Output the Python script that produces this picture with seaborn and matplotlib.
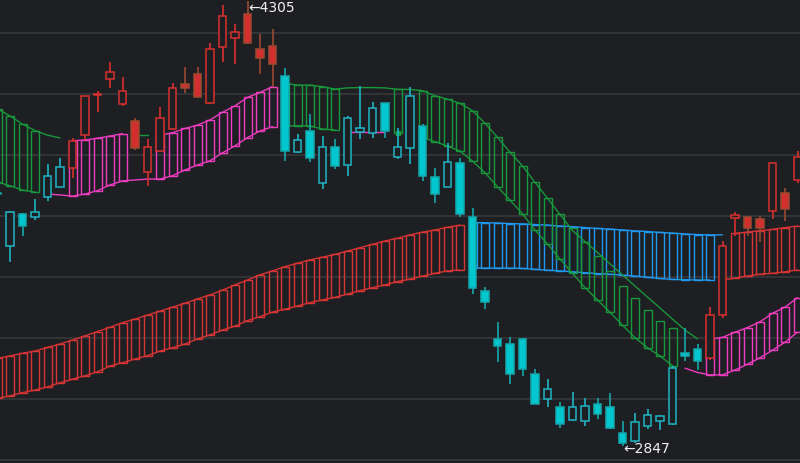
import numpy as np
import pandas as pd
import matplotlib
matplotlib.use("Agg")
import matplotlib.pyplot as plt
import seaborn as sns

nan = np.nan

# ---------------- data ----------------
# candle index k = -1 .. 63
K = list(range(-1, 64))
OPEN = [3677, 3504, 3606, 3599, 3664, 3697, 3759, 3866, 3997, 4049, 3967, 3913, 3746, 3815, 3885, 4033,
        4066, 3970, 4156, 4186, 4262, 4148, 4159, 4061, 3812, 3881, 3709, 3826, 3767, 3877, 3874, 3970,
        3795, 3825, 3897, 3728, 3697, 3774, 3597, 3356, 3197, 3180, 3197, 3082, 3001, 2974, 2932, 2929,
        2984, 2974, 2888, 2863, 2912, 2929, 2919, 3152, 3164, 3136, 3276, 3595, 3597, 3590, 3617, 3675, 3719]
HIGH = [3680, 3618, 3610, 3656, 3771, 3790, 3858, 3996, 4012, 4106, 4056, 3921, 3852, 3959, 4038, 4091,
        4091, 4169, 4293, 4231, 4305, 4198, 4214, 4085, 3869, 3934, 3864, 3853, 3930, 4028, 3974, 3971,
        3888, 4023, 3903, 3757, 3839, 3790, 3626, 3367, 3252, 3203, 3202, 3098, 3065, 2990, 3023, 3003,
        3003, 3020, 2930, 2954, 2967, 2948, 3110, 3235, 3180, 3302, 3520, 3613, 3598, 3602, 3777, 3692, 3815]
LOW = [3670, 3451, 3536, 3588, 3651, 3695, 3727, 3850, 3943, 4020, 3963, 3817, 3700, 3814, 3883, 4003,
       3991, 3968, 4107, 4098, 4165, 4066, 4025, 3782, 3807, 3779, 3689, 3754, 3733, 3852, 3856, 3856,
       3789, 3771, 3717, 3643, 3696, 3599, 3344, 3295, 3123, 3049, 3077, 2983, 2976, 2907, 2930, 2913,
       2934, 2902, 2847, 2858, 2902, 2899, 2917, 3125, 3096, 3129, 3266, 3535, 3535, 3517, 3591, 3586, 3710]
CLOSE = [3674, 3613, 3569, 3613, 3733, 3761, 3848, 3994, 3999, 4072, 4012, 3823, 3826, 3921, 4020, 4020,
         3992, 4148, 4258, 4203, 4167, 4118, 4098, 3815, 3850, 3791, 3826, 3766, 3921, 3888, 3954, 3881,
         3826, 3994, 3733, 3672, 3777, 3606, 3364, 3320, 3176, 3082, 3098, 2984, 3033, 2918, 2974, 2978,
         2952, 2905, 2856, 2924, 2948, 2945, 3102, 3143, 3126, 3276, 3503, 3604, 3563, 3563, 3774, 3623, 3793]
# trend state per candle (colour): (first k, last k, state)
TREND = [(-1, 4, "down"), (5, 21, "up"), (22, 55, "down"), (56, 63, "up")]

# upper cloud lines: (first k, values)
GREEN_HI = [(-1, [3952, 3929, 3902, 3881, 3866, 3857]),
            (10, [3866, 3866]),
            (22, [4036, 4030, 4030, 4025, 4017, 4021, 4022, 4022, 4021, 4016, 4016, 4012, 3995, 3984,
                  3970, 3946, 3905, 3859, 3810, 3765, 3711, 3659, 3606, 3553, 3517, 3481, 3444, 3408,
                  3371, 3335, 3299, 3263, 3227, 3198])]
GREEN_LO = [(-1, [3712, 3700, 3686, 3679]),
            (22, [3896, 3897, 3896, 3886, 3883]),
            (31, [3874]),
            (33, [3858, 3845, 3830, 3814, 3781, 3743, 3697, 3653, 3608, 3555, 3509, 3460, 3413, 3366,
                  3326, 3285, 3243, 3202, 3169, 3142, 3110])]
PINK_HI = [(5, [3848, 3850, 3856, 3863, 3871]),
           (12, [3866, 3874, 3888, 3899, 3916, 3941, 3962, 3990, 4006, 4025]),
           (56, [3197, 3203, 3220, 3235, 3254, 3282, 3302, 3333])]
PINK_LO = [(3, [3673, 3670, 3666, 3673, 3684, 3703, 3716, 3719, 3722, 3722, 3733, 3752, 3768, 3782,
                3808, 3831, 3858, 3880, 3894]),
           (27, [3875, 3875, 3875, 3875]),
           (32, [3867]),
           (54, [3102, 3088, 3080, 3080, 3096, 3115, 3136, 3161, 3187, 3220])]
# upper cloud boxes: (first k, last k, colour)
UPPER_BOXES = [(-1, 2, "g"), (5, 9, "p"), (12, 21, "p"), (22, 26, "g"), (31, 31, "g"),
               (33, 53, "g"), (56, 63, "p")]
GREEN_BOX_TOP_LATE = (45, [3562, 3516, 3470, 3421, 3371, 3331, 3293, 3257, 3233])

# lower cloud lines
RED_HI = [(-1, [3134, 3142, 3151, 3158, 3170, 3181, 3194, 3208, 3222, 3236, 3251, 3263, 3276, 3289,
                3302, 3315, 3329, 3342, 3358, 3375, 3391, 3408, 3421, 3435, 3446, 3457, 3466, 3475,
                3486, 3497, 3508, 3519, 3528, 3539, 3548, 3555, 3564, 3571]),
          (58, [3544, 3548, 3553, 3557, 3563, 3568])]
RED_LO = [(-1, [3003, 3011, 3022, 3030, 3041, 3054, 3066, 3077, 3090, 3109, 3120, 3132, 3143, 3158,
                3169, 3181, 3198, 3211, 3227, 3240, 3258, 3271, 3286, 3295, 3306, 3317, 3326, 3334,
                3345, 3356, 3366, 3375, 3386, 3394, 3404, 3413, 3421, 3424]),
          (57, [3391, 3397, 3404, 3410, 3413, 3418, 3424])]
BLUE_HI = [(37, [3579, 3579, 3578, 3576, 3575, 3573, 3571, 3568, 3566, 3563, 3560, 3558, 3555, 3552,
                 3550, 3547, 3545, 3542, 3540, 3539, 3539])]
BLUE_LO = [(37, [3430, 3430, 3430, 3430, 3429, 3426, 3423, 3421, 3418, 3415, 3412, 3410, 3407, 3404,
                 3400, 3396, 3393, 3392, 3391, 3391])]
LOWER_BOXES = [(-1, 36, "r"), (37, 56, "b"), (58, 63, "r")]

GRID_LEVELS = [2800, 3000, 3200, 3400, 3600, 3800, 4000, 4200]
MAX_LABEL = (19, 4305, "\u2190" + "4305")
MIN_LABEL = (49, 2847, "\u2190" + "2847")

# ---------------- style ----------------
BG = "#1e1f23"
GRID = "#323337"
C_GREEN = "#17983a"
C_PINK = "#f03cc0"
C_RED = "#d93434"
C_BLUE = "#2198f0"
UP_EDGE = "#d8302f"
UP_FILL = "#d32f2e"
UP_FILLED_WICK = "#9c4a30"
DN_FILL = "#00c6ce"
DN_EDGE = "#1fb4c4"
DN_WICK = "#12a9ad"

sns.set_theme(style="dark", rc={"axes.facecolor": BG, "figure.facecolor": BG,
                                "axes.edgecolor": BG, "grid.color": GRID})
plt.rcParams["font.family"] = ["DejaVu Sans"]

N = len(K)
xs = np.array(K, dtype=float)


def build(segments):
    arr = np.full(N, nan)
    for start, vals in segments:
        i0 = start + 1
        arr[i0:i0 + len(vals)] = vals
    return arr


fig = plt.figure(figsize=(8.0, 4.63), dpi=100)
ax = fig.add_axes([0, 0, 1, 1])
ax.set_facecolor(BG)
ax.set_xlim(-0.8, 63.2)
ax.set_ylim(2791, 4309.2)
ax.set_yticks(GRID_LEVELS)
ax.set_xticks([])
ax.grid(axis="y", color=GRID, linewidth=1.5)
ax.grid(axis="x", visible=False)
ax.tick_params(left=False, bottom=False, labelleft=False, labelbottom=False)
for s in ax.spines.values():
    s.set_visible(False)


def draw_runs(y, color, lw=1.0, z=2):
    y = np.asarray(y, float)
    ok = ~np.isnan(y)
    i = 0
    while i < N:
        if not ok[i]:
            i += 1
            continue
        j = i
        while j + 1 < N and ok[j + 1]:
            j += 1
        if j == i:
            ax.plot([xs[i]], [y[i]], marker="s", ms=2.6, color=color, lw=0, zorder=z)
        else:
            df = pd.DataFrame({"x": xs[i:j + 1], "y": y[i:j + 1]})
            sns.lineplot(data=df, x="x", y="y", color=color, linewidth=lw, ax=ax,
                         estimator=None, sort=False, legend=False, zorder=z)
        i = j + 1


BOX_W = 0.64


def draw_boxes(hi, lo, ranges, colors):
    for a, b, c in ranges:
        sl = slice(a + 1, b + 2)
        h = hi[sl]
        l = lo[sl]
        ax.bar(xs[sl], h - l, bottom=l, width=BOX_W, fill=False, edgecolor=colors[c],
               linewidth=1.0, zorder=2)


# lower cloud
red_hi, red_lo = build(RED_HI), build(RED_LO)
blue_hi, blue_lo = build(BLUE_HI), build(BLUE_LO)
lo_hi = np.where(np.isnan(red_hi), blue_hi, red_hi)
lo_lo = np.where(np.isnan(red_lo), blue_lo, red_lo)
draw_boxes(lo_hi, lo_lo, LOWER_BOXES, {"r": C_RED, "b": C_BLUE})
for arr, col in [(red_hi, C_RED), (red_lo, C_RED), (blue_hi, C_BLUE), (blue_lo, C_BLUE)]:
    draw_runs(arr, col)

# upper cloud
g_hi, g_lo = build(GREEN_HI), build(GREEN_LO)
p_hi, p_lo = build(PINK_HI), build(PINK_LO)
box_hi = np.full(N, nan)
box_lo = np.full(N, nan)
for a, b, c in UPPER_BOXES:
    sl = slice(a + 1, b + 2)
    box_hi[sl] = (g_hi if c == "g" else p_hi)[sl]
    box_lo[sl] = (g_lo if c == "g" else p_lo)[sl]
st, vals = GREEN_BOX_TOP_LATE
box_hi[st + 1:st + 1 + len(vals)] = vals
draw_boxes(box_hi, box_lo, UPPER_BOXES, {"g": C_GREEN, "p": C_PINK})
for arr, col in [(g_hi, C_GREEN), (g_lo, C_GREEN), (p_hi, C_PINK), (p_lo, C_PINK)]:
    draw_runs(arr, col)

# candles
state = {}
for a, b, s in TREND:
    for k in range(a, b + 1):
        state[k] = s
CW = 0.62
for i, k in enumerate(K):
    o, h, l, c = OPEN[i], HIGH[i], LOW[i], CLOSE[i]
    up = state[k] == "up"
    hollow = c > o
    if up:
        face = BG if hollow else UP_FILL
        wick = UP_EDGE if hollow else UP_FILLED_WICK
        bedge = UP_EDGE if hollow else UP_FILLED_WICK
    else:
        face = BG if hollow else DN_FILL
        wick = DN_EDGE if hollow else DN_WICK
        bedge = DN_EDGE if hollow else DN_WICK
    ax.vlines(k, l, h, color=wick, linewidth=1.2, zorder=4)
    body_lo = min(o, c)
    body_h = max(abs(c - o), 2.5)
    ax.bar(k, body_h, bottom=body_lo, width=CW, color=face, edgecolor=bedge,
           linewidth=1.1, zorder=5)

for (k, v, txt), dy in [(MAX_LABEL, -7), (MIN_LABEL, -3)]:
    ax.annotate(txt, xy=(k, v), xytext=(1, dy), textcoords="offset pixels",
                color="#f0f0f0", fontsize=10, va="center", ha="left", zorder=6)

fig.savefig("out.png", dpi=100, facecolor=BG)
